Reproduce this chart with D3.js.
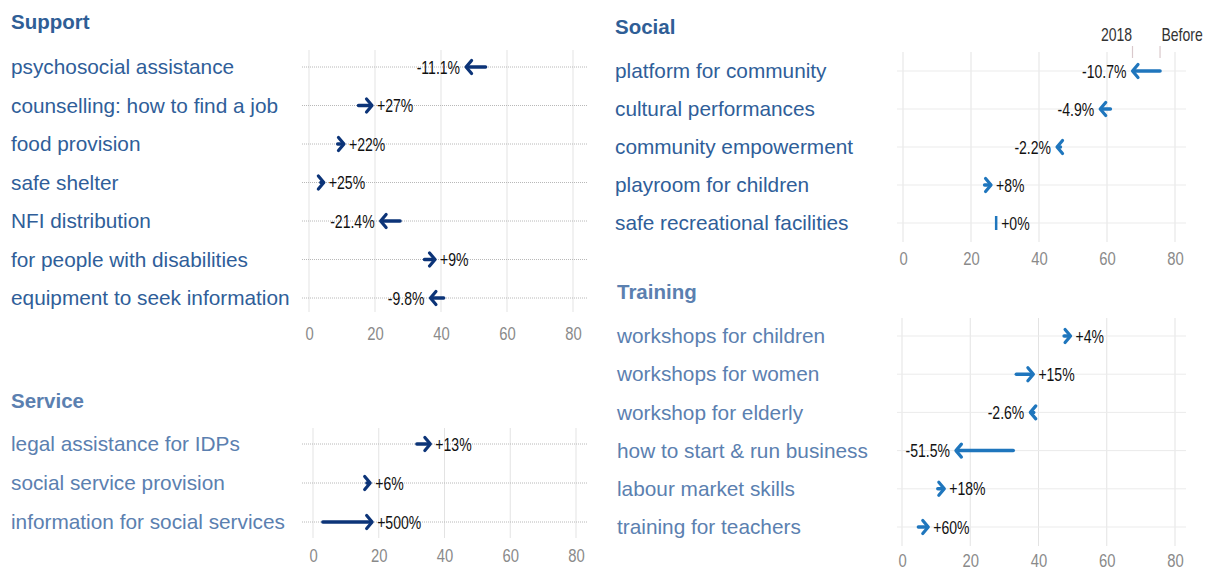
<!DOCTYPE html>
<html><head><meta charset="utf-8">
<script src="https://cdn.jsdelivr.net/npm/d3@7"></script>
<style>body{margin:0;background:#fff;}svg{display:block;}</style>
</head><body>
<script>
// ---- data ----
const supportCats = ["psychosocial assistance","counselling: how to find a job","food provision","safe shelter","NFI distribution","for people with disabilities","equipment to seek information"];
const supportBefore = [53.5, 15.0, 8.7, 3.6, 27.6, 35.0, 40.8];
const supportAfter  = [47.6, 19.1, 10.6, 4.5, 21.7, 38.2, 36.8];
const supportLabels = ["-11.1%","+27%","+22%","+25%","-21.4%","+9%","-9.8%"];

const serviceCats = ["legal assistance for IDPs","social service provision","information for social services"];
const serviceBefore = [31.6, 16.4, 3.0];
const serviceAfter  = [35.7, 17.4, 18.0];
const serviceLabels = ["+13%","+6%","+500%"];

const socialCats = ["platform for community","cultural performances","community empowerment","playroom for children","safe recreational facilities"];
const socialBefore = [75.6, 61.0, 46.3, 24.0, 27.4];
const socialAfter  = [67.5, 58.0, 45.3, 25.9, 27.4];
const socialLabels = ["-10.7%","-4.9%","-2.2%","+8%","+0%"];

const trainingCats = ["workshops for children","workshops for women","workshop for elderly","how to start & run business","labour market skills","training for teachers"];
const trainingBefore = [47.5, 33.5, 38.6, 32.6, 10.5, 4.8];
const trainingAfter  = [49.4, 38.5, 37.6, 15.8, 12.4, 7.7];
const trainingLabels = ["+4%","+15%","-2.6%","-51.5%","+18%","+60%"];

const xTicks = [0, 20, 40, 60, 80];
const keyLabels = ["2018", "Before"];

// ---- drawing ----
const W = 1211, H = 570;
const svg = d3.select("body").append("svg").attr("width", W).attr("height", H);
const SANS = "'Liberation Sans', Arial, sans-serif";
const SX = 0.78; // horizontal condensing for number labels

function narrowText(sel, x, y, txt, anchor, size, fill) {
  return sel.append("text")
    .attr("transform", `translate(${x},${y}) scale(${SX},1)`)
    .attr("text-anchor", anchor).attr("font-family", SANS).attr("font-size", size)
    .attr("fill", fill).text(txt);
}

function panel(o) {
  const g = svg.append("g");
  g.append("text").attr("x", o.tx).attr("y", o.ty)
    .attr("font-family", SANS).attr("font-weight", "bold").attr("font-size", 20.5)
    .attr("fill", o.titleColor).text(o.title);
  const x = d3.scaleLinear().domain([0, 80]).range([o.x0, o.x80]);
  const y = d3.scalePoint().domain(o.cats).range([o.y0, o.y1]);
  // vertical grid
  g.append("g").selectAll("line").data(xTicks).join("line")
    .attr("x1", d => x(d)).attr("x2", d => x(d))
    .attr("y1", o.gTop).attr("y2", o.gBot)
    .attr("stroke", "#e3e3e3").attr("stroke-width", 1);
  // horizontal grid
  g.append("g").selectAll("line").data(o.cats).join("line")
    .attr("x1", o.gL).attr("x2", o.gR)
    .attr("y1", d => y(d)).attr("y2", d => y(d))
    .attr("stroke", o.dotted ? "#b8b8b8" : "#ebebeb")
    .attr("stroke-dasharray", o.dotted ? "1,1" : null)
    .attr("stroke-width", 1);
  // axis
  const ax = g.append("g").attr("transform", `translate(0,${o.axisY})`)
    .call(d3.axisBottom(x).tickValues(xTicks).tickSize(0).tickPadding(0));
  ax.select(".domain").remove();
  ax.selectAll("text").attr("font-family", SANS).attr("font-size", 19)
    .attr("fill", "#8a8a8a").attr("dy", "0").attr("y", 0)
    .attr("transform", `scale(${SX},1)`);
  // category labels
  g.append("g").selectAll("text").data(o.cats).join("text")
    .attr("x", o.tx).attr("y", d => y(d)).attr("dy", "0.35em")
    .attr("font-family", SANS).attr("font-size", 20.8)
    .attr("fill", o.labelColor).text(d => d);
  // arrows
  const rows = o.cats.map((c, i) => ({c, b: o.before[i], a: o.after[i], l: o.labels[i]}));
  const ag = g.append("g");
  rows.forEach(r => {
    const yy = y(r.c), xb = x(r.b), xa = x(r.a);
    const dir = Math.sign(xa - xb);
    if (dir === 0) {
      ag.append("line").attr("x1", xa).attr("x2", xa).attr("y1", yy - 7).attr("y2", yy + 7)
        .attr("stroke", o.arrowColor).attr("stroke-width", 2.5);
    } else {
      ag.append("line").attr("x1", xb).attr("x2", xa - dir * 1.5).attr("y1", yy).attr("y2", yy)
        .attr("stroke", o.arrowColor).attr("stroke-width", 3.5).attr("stroke-linecap", "round");
      ag.append("path")
        .attr("d", `M${xa - dir * 5.5},${yy - 6.5}L${xa},${yy}L${xa - dir * 5.5},${yy + 6.5}`)
        .attr("fill", "none").attr("stroke", o.arrowColor).attr("stroke-width", 3.2)
        .attr("stroke-linejoin", "round").attr("stroke-linecap", "round");
    }
    const neg = r.l.startsWith("-");
    narrowText(ag, neg ? xa - 6 : xa + 5, yy + 6.5, r.l, neg ? "end" : "start", 18, "#111");
  });
  return {g, x, y};
}

panel({title: "Support", tx: 11, ty: 29, titleColor: "#2f5e96", labelColor: "#2f5e99",
  cats: supportCats, before: supportBefore, after: supportAfter, labels: supportLabels,
  x0: 309, x80: 573, y0: 67, y1: 298, gTop: 50, gBot: 312, gL: 302, gR: 588, axisY: 340,
  dotted: true, arrowColor: "#0c3478"});

panel({title: "Service", tx: 11, ty: 408, titleColor: "#5b80b0", labelColor: "#5b80b0",
  cats: serviceCats, before: serviceBefore, after: serviceAfter, labels: serviceLabels,
  x0: 313, x80: 576, y0: 444, y1: 522, gTop: 428, gBot: 538, gL: 302, gR: 588, axisY: 562,
  dotted: true, arrowColor: "#0c3478"});

const soc = panel({title: "Social", tx: 615, ty: 34, titleColor: "#2f5e96", labelColor: "#2f5e99",
  cats: socialCats, before: socialBefore, after: socialAfter, labels: socialLabels,
  x0: 903, x80: 1175, y0: 71, y1: 223, gTop: 52, gBot: 242, gL: 897, gR: 1186, axisY: 265,
  dotted: false, arrowColor: "#1f76bd"});

panel({title: "Training", tx: 617, ty: 299, titleColor: "#5b80b0", labelColor: "#5b80b0",
  cats: trainingCats, before: trainingBefore, after: trainingAfter, labels: trainingLabels,
  x0: 902, x80: 1175, y0: 336, y1: 527, gTop: 318, gBot: 546, gL: 897, gR: 1186, axisY: 567,
  dotted: false, arrowColor: "#1f76bd"});

// "2018" / "Before" key on first social row
const keyRow = 0;
const kx = [soc.x(socialAfter[keyRow]), soc.x(socialBefore[keyRow])];
svg.append("g").selectAll("line").data(kx).join("line")
  .attr("x1", d => d).attr("x2", d => d).attr("y1", 46).attr("y2", 58)
  .attr("stroke", "#d9c9cc").attr("stroke-width", 1.2);
const kg = svg.append("g");
kx.forEach((d, i) => narrowText(kg, i === 0 ? d - 16 : d + 22, 41, keyLabels[i], "middle", 18, "#333"));
</script>
</body></html>
